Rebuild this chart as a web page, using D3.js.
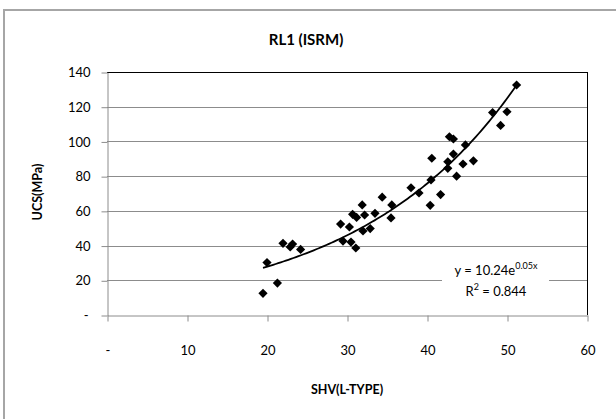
<!DOCTYPE html>
<html>
<head>
<meta charset="utf-8">
<script src="https://cdn.jsdelivr.net/npm/d3@7/dist/d3.min.js"></script>
<style>
  html, body { margin: 0; padding: 0; background: #fff; }
  svg { display: block; font-family: Lato, "Open Sans", "Liberation Sans", sans-serif; }
</style>
</head>
<body>
<svg id="chart" width="616" height="419"></svg>
<script>
// Schmidt hammer rebound (L-type) vs uniaxial compressive strength
const shv = [19.5, 20.0, 21.3, 22.0, 22.9, 23.2, 24.2, 29.2, 29.5, 30.3, 30.5, 31.1, 30.7, 31.2,
  31.9, 32.2, 32.0, 32.9, 33.5, 34.4, 35.6, 35.5, 38.0, 39.0, 40.5, 40.4, 41.7, 40.6, 42.8,
  43.3, 44.8, 42.6, 43.3, 44.5, 45.8, 42.6, 43.7, 48.2, 50.0, 49.2, 51.2];
const ucs = [12.5, 30.2, 18.4, 41.3, 39.2, 40.9, 37.8, 52.4, 42.6, 50.7, 42.0, 38.6, 58.0, 56.2,
  63.4, 57.6, 48.4, 49.8, 58.6, 67.9, 63.4, 55.9, 73.3, 70.3, 77.8, 63.2, 69.4, 90.3, 102.7,
  101.4, 98.0, 88.3, 92.7, 87.0, 88.8, 84.5, 80.0, 116.6, 117.1, 109.2, 132.5];

// Exponential trend: y = a * e^(b x)
const trendA = 10.24;
const trendB = 0.05;

const xTicks = [0, 10, 20, 30, 40, 50, 60];
const yTicks = [0, 20, 40, 60, 80, 100, 120, 140];

const titleText = "RL1 (ISRM)";
const xTitle = "SHV(L-TYPE)";
const yTitle = "UCS(MPa)";
const eqText = ["y = 10.24e", "0.05x"];
const r2Text = ["R", "2", " = 0.844"];

const svg = d3.select("#chart");
const plot = { left: 107, right: 587, top: 72, bottom: 315 };

const x = d3.scaleLinear().domain([0, 60]).range([plot.left, plot.right]);
const y = d3.scaleLinear().domain([0, 140]).range([plot.bottom, plot.top]);
const fmt = v => v === 0 ? "-" : String(v);

// outer chart frame
svg.append("rect").attr("x", 4).attr("y", 10).attr("width", 640).attr("height", 440)
  .attr("fill", "#fff").attr("stroke", "#a6a6a6").attr("stroke-width", 2);

// title
svg.append("text").attr("x", 306).attr("y", 45).attr("text-anchor", "middle")
  .attr("font-size", 15).attr("font-weight", "bold").text(titleText);

// horizontal gridlines
svg.append("g").selectAll("line").data(yTicks.filter(d => d > 0)).join("line")
  .attr("x1", plot.left).attr("x2", plot.right)
  .attr("y1", d => Math.round(y(d)) + 0.5).attr("y2", d => Math.round(y(d)) + 0.5)
  .attr("stroke", d => d === 140 ? "#000" : "#8c8c8c").attr("stroke-width", 1);

// right border of plot area
svg.append("line").attr("x1", plot.right + 0.5).attr("x2", plot.right + 0.5)
  .attr("y1", plot.top).attr("y2", plot.bottom).attr("stroke", "#000");

// y axis
const yAxis = d3.axisLeft(y).tickValues(yTicks).tickFormat(fmt).tickSize(6).tickSizeOuter(0);
const gy = svg.append("g").attr("transform", `translate(${plot.left + 0.5},0.5)`).call(yAxis);
gy.select(".domain").attr("stroke", "#8c8c8c");
gy.selectAll(".tick line").attr("stroke", "#8c8c8c");
gy.selectAll(".tick text").attr("font-size", 13).attr("fill", "#000").attr("x", -17)
  .attr("font-family", "Lato, 'Open Sans', sans-serif");
gy.selectAll(".tick text").filter(d => d === 0).attr("x", -19);

// x axis
const xAxis = d3.axisBottom(x).tickValues(xTicks).tickFormat(fmt).tickSize(6).tickSizeOuter(0);
const gx = svg.append("g").attr("transform", `translate(0.5,${plot.bottom + 0.5})`).call(xAxis);
gx.select(".domain").attr("stroke", "#8c8c8c");
gx.selectAll(".tick line").attr("stroke", "#8c8c8c");
gx.selectAll(".tick text").attr("font-size", 13).attr("fill", "#000").attr("y", 30)
  .attr("font-family", "Lato, 'Open Sans', sans-serif");

// axis titles
svg.append("text").attr("x", 347).attr("y", 394).attr("text-anchor", "middle")
  .attr("font-size", 12.5).attr("font-weight", "bold").text(xTitle);
svg.append("text").attr("transform", "translate(42,192) rotate(-90)")
  .attr("text-anchor", "middle").attr("font-size", 12.5).attr("font-weight", "bold").text(yTitle);

// trendline over the observed SHV range
const [xMin, xMax] = d3.extent(shv);
const trendPts = d3.range(0, 101).map(i => {
  const xv = xMin + (xMax - xMin) * i / 100;
  return [xv, trendA * Math.exp(trendB * xv)];
});
svg.append("path").datum(trendPts)
  .attr("d", d3.line().x(d => x(d[0])).y(d => y(d[1])))
  .attr("fill", "none").attr("stroke", "#000").attr("stroke-width", 1.8);

// diamond markers
const rr = 4.6;
svg.append("g").selectAll("path").data(shv.map((v, i) => [v, ucs[i]])).join("path")
  .attr("d", `M0,${-rr}L${rr},0L0,${rr}L${-rr},0Z`)
  .attr("transform", d => `translate(${x(d[0])},${y(d[1])})`)
  .attr("fill", "#000");

// equation label with white background
const lbl = svg.append("g");
lbl.append("rect").attr("x", 442).attr("y", 258).attr("width", 107).attr("height", 44).attr("fill", "#fff");
const eq = lbl.append("text").attr("x", 496).attr("y", 275).attr("text-anchor", "middle").attr("font-size", 13);
eq.append("tspan").text(eqText[0]);
eq.append("tspan").attr("dy", -6).attr("font-size", 9).text(eqText[1]);
const r2 = lbl.append("text").attr("x", 496).attr("y", 296).attr("text-anchor", "middle").attr("font-size", 13);
r2.append("tspan").text(r2Text[0]);
r2.append("tspan").attr("dy", -6).attr("font-size", 9).text(r2Text[1]);
r2.append("tspan").attr("dy", 6).text(r2Text[2]);
</script>
</body>
</html>
